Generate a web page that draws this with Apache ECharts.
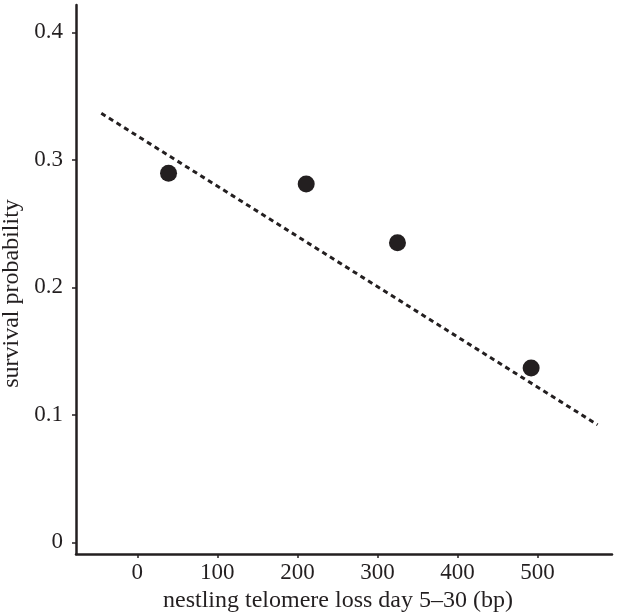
<!DOCTYPE html>
<html>
<head>
<meta charset="utf-8">
<script src="https://cdn.jsdelivr.net/npm/echarts@6/dist/echarts.min.js"></script>
<style>
  html, body { margin: 0; padding: 0; background: #fff; }
  #chart { width: 624px; height: 614px; }
</style>
</head>
<body>
<div id="chart"></div>
<script>
// measured points
const telomereLoss = [39, 211, 325, 492];
const survival = [0.2895, 0.281, 0.235, 0.1367];
// fitted trend (end points)
const fitX = [-45, 575];
const fitY = [0.3365, 0.0922];
const xTicks = [0, 100, 200, 300, 400, 500];
const yTicks = [0, 0.1, 0.2, 0.3, 0.4];

const ink = '#231f20';
const font = 'Liberation Serif';

const myChart = echarts.init(document.getElementById('chart'));

const option = {
    animation: false,
    grid: {
        left: 76,
        right: 12,
        top: 5,
        bottom: 60,
        containLabel: false,
        outerBoundsMode: 'none'
    },
    xAxis: {
        type: 'value',
        min: -76.6,
        max: 593,
        name: 'nestling telomere loss day 5\u201330 (bp)',
        nameLocation: 'middle',
        nameGap: 34,
        nameTextStyle: { fontFamily: font, fontSize: 24, color: ink, padding: [0, 12, 0, 0] },
        axisLine: { onZero: false, lineStyle: { color: ink, width: 2.5 } },
        axisTick: { show: true, length: 4, customValues: xTicks, lineStyle: { color: ink, width: 1.5 } },
        axisLabel: { customValues: xTicks, fontFamily: font, fontSize: 23, color: ink, margin: 7 },
        splitLine: { show: false }
    },
    yAxis: {
        type: 'value',
        min: -0.0091,
        max: 0.4214,
        name: 'survival probability',
        nameLocation: 'middle',
        nameGap: 51,
        nameTextStyle: { fontFamily: font, fontSize: 24, color: ink, padding: [0, 28, 0, 0] },
        axisLine: { onZero: false, lineStyle: { color: ink, width: 2.5 } },
        axisTick: { show: true, length: 4, customValues: yTicks, lineStyle: { color: ink, width: 1.5 } },
        axisLabel: { customValues: yTicks, fontFamily: font, fontSize: 23, color: ink, margin: 13 },
        splitLine: { show: false }
    },
    series: [
        {
            type: 'line',
            data: fitX.map((x, i) => [x, fitY[i]]),
            symbol: 'none',
            lineStyle: { color: ink, width: 3, type: [5, 4] },
            z: 1
        },
        {
            type: 'scatter',
            data: telomereLoss.map((x, i) => [x, survival[i]]),
            symbolSize: 17,
            itemStyle: { color: ink, opacity: 1 },
            z: 2
        }
    ]
};
myChart.setOption(option);
</script>
</body>
</html>
